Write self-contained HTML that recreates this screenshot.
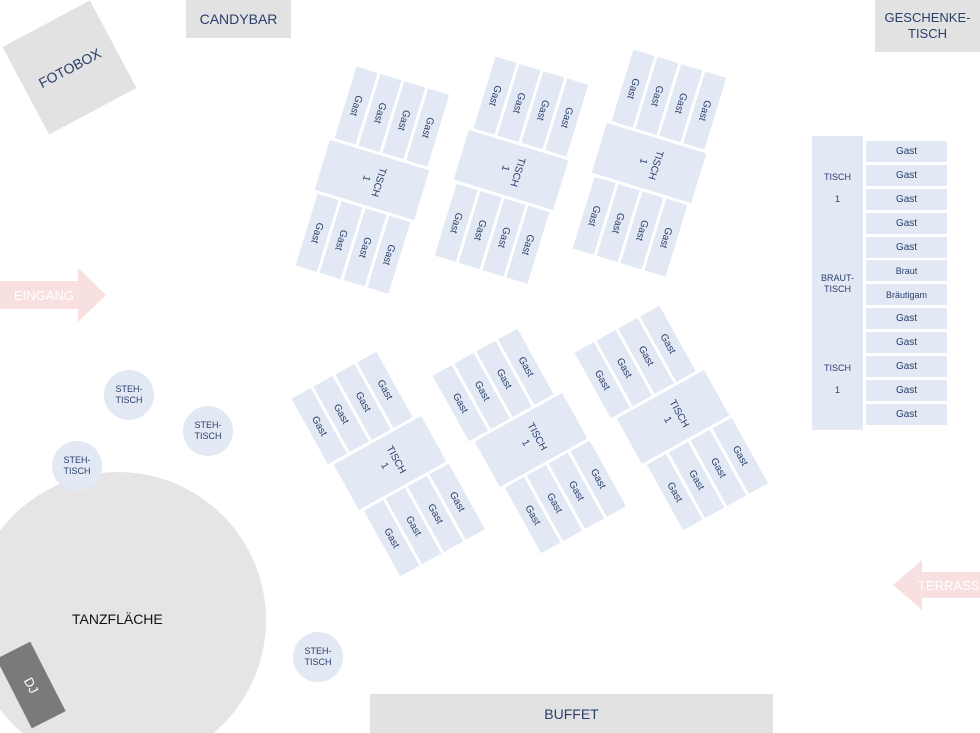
<!DOCTYPE html>
<html><head><meta charset="utf-8"><style>
body{margin:0;width:980px;height:733px;position:relative;overflow:hidden;background:#fff;font-family:"Liberation Sans",sans-serif;color:#2b3f6b}
.a{position:absolute}
.g{position:absolute;width:0;height:0}
.b{position:absolute;background:#e2e9f4;display:flex;align-items:center;justify-content:center;font-size:10px}
.t span,.c span{display:block;transform:rotate(90deg);white-space:nowrap;text-align:center;line-height:13px}
.gray{background:#e2e2e2;display:flex;align-items:center;justify-content:center;font-size:14px;color:#2b3f6b;text-align:center;line-height:16px}
.st{position:absolute;border-radius:50%;background:#e2e9f4;width:50px;height:50px;display:flex;align-items:center;justify-content:center;font-size:9px;text-align:center;line-height:11px}
.seat{position:absolute;left:866px;width:81px;height:21px;background:#e2e9f4;font-size:10px;display:flex;align-items:center;justify-content:center}
</style></head><body>

<div class="a gray" style="left:186px;top:0;width:105px;height:38px">CANDYBAR</div>
<div class="a gray" style="left:875px;top:0;width:105px;height:52px;font-size:13px">GESCHENKE-<br>TISCH</div>
<div class="a gray" style="left:20px;top:18px;width:99px;height:99px;transform:rotate(-28deg);font-size:14px">FOTOBOX</div>

<svg class="a" style="left:0;top:0" width="980" height="733">
<polygon points="0,281 78,281 78,268 106,295 78,322 78,309 0,309" fill="#f8e0e0"/>
<polygon points="980,572 922,572 922,560 893,585 922,610 922,598 980,598" fill="#f8e0e0"/>
<circle cx="118" cy="620" r="148" fill="#e5e5e5"/>
</svg>
<div class="a" style="left:14px;top:288px;color:#fff;font-size:13px">EINGANG</div>
<div class="a" style="left:918px;top:578px;color:#fff;font-size:13px">TERRASSE</div>
<div class="a" style="left:72px;top:611px;color:#111;font-size:14px">TANZFLÄCHE</div>
<div class="a" style="left:12px;top:646px;width:38px;height:78px;background:#7a7a7a;transform:rotate(-27deg);display:flex;align-items:center;justify-content:center;color:#fff;font-size:13px"><span style="transform:rotate(90deg)">DJ</span></div>

<div class="st" style="left:104px;top:370px">STEH-<br>TISCH</div>
<div class="st" style="left:183px;top:406px">STEH-<br>TISCH</div>
<div class="st" style="left:52px;top:441px">STEH-<br>TISCH</div>
<div class="st" style="left:293px;top:632px">STEH-<br>TISCH</div>

<div class="a gray" style="left:370px;top:694px;width:403px;height:39px">BUFFET</div>

<!-- bridal table -->
<div class="a" style="left:812px;top:136px;width:51px;height:294px;background:#e2e9f4;font-size:9px;text-align:center;line-height:11px">
<div class="a" style="left:0;width:51px;top:36px">TISCH<br><br>1</div>
<div class="a" style="left:0;width:51px;top:137px">BRAUT-<br>TISCH</div>
<div class="a" style="left:0;width:51px;top:227px">TISCH<br><br>1</div>
</div>
<div class="seat" style="top:141px">Gast</div>
<div class="seat" style="top:165px">Gast</div>
<div class="seat" style="top:189px">Gast</div>
<div class="seat" style="top:213px">Gast</div>
<div class="seat" style="top:237px">Gast</div>
<div class="seat" style="top:260px;font-size:9px">Braut</div>
<div class="seat" style="top:284px;font-size:9px">Bräutigam</div>
<div class="seat" style="top:308px">Gast</div>
<div class="seat" style="top:332px">Gast</div>
<div class="seat" style="top:356px">Gast</div>
<div class="seat" style="top:380px">Gast</div>
<div class="seat" style="top:404px">Gast</div>

<!-- groups -->
<div id="tpl" style="display:none"></div>
<script></script>
<div class="g" style="left:372px;top:180px;transform:rotate(17deg)">
<div class="b t" style="left:-52px;top:-26px;width:104px;height:52px"><span>TISCH<br>1</span></div>
<div class="b c" style="left:-48px;top:-104px;width:22px;height:75px"><span>Gast</span></div>
<div class="b c" style="left:-23px;top:-104px;width:22px;height:75px"><span>Gast</span></div>
<div class="b c" style="left:2px;top:-104px;width:22px;height:75px"><span>Gast</span></div>
<div class="b c" style="left:27px;top:-104px;width:22px;height:75px"><span>Gast</span></div>
<div class="b c" style="left:-48px;top:29px;width:22px;height:75px"><span>Gast</span></div>
<div class="b c" style="left:-23px;top:29px;width:22px;height:75px"><span>Gast</span></div>
<div class="b c" style="left:2px;top:29px;width:22px;height:75px"><span>Gast</span></div>
<div class="b c" style="left:27px;top:29px;width:22px;height:75px"><span>Gast</span></div>
</div>
<div class="g" style="left:511px;top:170px;transform:rotate(17deg)">
<div class="b t" style="left:-52px;top:-26px;width:104px;height:52px"><span>TISCH<br>1</span></div>
<div class="b c" style="left:-48px;top:-104px;width:22px;height:75px"><span>Gast</span></div>
<div class="b c" style="left:-23px;top:-104px;width:22px;height:75px"><span>Gast</span></div>
<div class="b c" style="left:2px;top:-104px;width:22px;height:75px"><span>Gast</span></div>
<div class="b c" style="left:27px;top:-104px;width:22px;height:75px"><span>Gast</span></div>
<div class="b c" style="left:-48px;top:29px;width:22px;height:75px"><span>Gast</span></div>
<div class="b c" style="left:-23px;top:29px;width:22px;height:75px"><span>Gast</span></div>
<div class="b c" style="left:2px;top:29px;width:22px;height:75px"><span>Gast</span></div>
<div class="b c" style="left:27px;top:29px;width:22px;height:75px"><span>Gast</span></div>
</div>
<div class="g" style="left:649px;top:163px;transform:rotate(17deg)">
<div class="b t" style="left:-52px;top:-26px;width:104px;height:52px"><span>TISCH<br>1</span></div>
<div class="b c" style="left:-48px;top:-104px;width:22px;height:75px"><span>Gast</span></div>
<div class="b c" style="left:-23px;top:-104px;width:22px;height:75px"><span>Gast</span></div>
<div class="b c" style="left:2px;top:-104px;width:22px;height:75px"><span>Gast</span></div>
<div class="b c" style="left:27px;top:-104px;width:22px;height:75px"><span>Gast</span></div>
<div class="b c" style="left:-48px;top:29px;width:22px;height:75px"><span>Gast</span></div>
<div class="b c" style="left:-23px;top:29px;width:22px;height:75px"><span>Gast</span></div>
<div class="b c" style="left:2px;top:29px;width:22px;height:75px"><span>Gast</span></div>
<div class="b c" style="left:27px;top:29px;width:22px;height:75px"><span>Gast</span></div>
</div>

<div class="g" style="left:390px;top:463px;transform:rotate(-29deg)">
<div class="b t" style="left:-50px;top:-26px;width:100px;height:52px"><span>TISCH<br>1</span></div>
<div class="b c" style="left:-55px;top:-104px;width:22px;height:75px"><span>Gast</span></div>
<div class="b c" style="left:-30px;top:-104px;width:22px;height:75px"><span>Gast</span></div>
<div class="b c" style="left:-5px;top:-104px;width:22px;height:75px"><span>Gast</span></div>
<div class="b c" style="left:20px;top:-104px;width:22px;height:75px"><span>Gast</span></div>
<div class="b c" style="left:-46px;top:29px;width:22px;height:75px"><span>Gast</span></div>
<div class="b c" style="left:-21px;top:29px;width:22px;height:75px"><span>Gast</span></div>
<div class="b c" style="left:4px;top:29px;width:22px;height:75px"><span>Gast</span></div>
<div class="b c" style="left:29px;top:29px;width:22px;height:75px"><span>Gast</span></div>
</div>
<div class="g" style="left:531px;top:440px;transform:rotate(-29deg)">
<div class="b t" style="left:-50px;top:-26px;width:100px;height:52px"><span>TISCH<br>1</span></div>
<div class="b c" style="left:-55px;top:-104px;width:22px;height:75px"><span>Gast</span></div>
<div class="b c" style="left:-30px;top:-104px;width:22px;height:75px"><span>Gast</span></div>
<div class="b c" style="left:-5px;top:-104px;width:22px;height:75px"><span>Gast</span></div>
<div class="b c" style="left:20px;top:-104px;width:22px;height:75px"><span>Gast</span></div>
<div class="b c" style="left:-46px;top:29px;width:22px;height:75px"><span>Gast</span></div>
<div class="b c" style="left:-21px;top:29px;width:22px;height:75px"><span>Gast</span></div>
<div class="b c" style="left:4px;top:29px;width:22px;height:75px"><span>Gast</span></div>
<div class="b c" style="left:29px;top:29px;width:22px;height:75px"><span>Gast</span></div>
</div>
<div class="g" style="left:673px;top:417px;transform:rotate(-29deg)">
<div class="b t" style="left:-50px;top:-26px;width:100px;height:52px"><span>TISCH<br>1</span></div>
<div class="b c" style="left:-55px;top:-104px;width:22px;height:75px"><span>Gast</span></div>
<div class="b c" style="left:-30px;top:-104px;width:22px;height:75px"><span>Gast</span></div>
<div class="b c" style="left:-5px;top:-104px;width:22px;height:75px"><span>Gast</span></div>
<div class="b c" style="left:20px;top:-104px;width:22px;height:75px"><span>Gast</span></div>
<div class="b c" style="left:-46px;top:29px;width:22px;height:75px"><span>Gast</span></div>
<div class="b c" style="left:-21px;top:29px;width:22px;height:75px"><span>Gast</span></div>
<div class="b c" style="left:4px;top:29px;width:22px;height:75px"><span>Gast</span></div>
<div class="b c" style="left:29px;top:29px;width:22px;height:75px"><span>Gast</span></div>
</div>

</body></html>
